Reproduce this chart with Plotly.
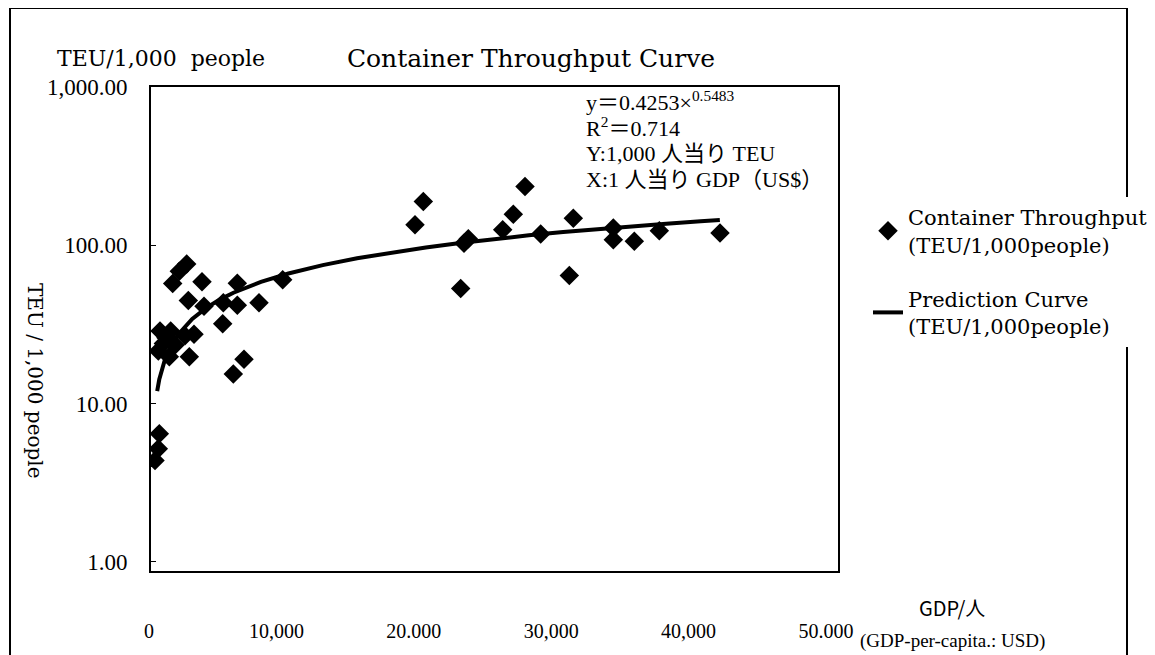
import plotly.graph_objects as go

# ---- data ----
gdp_per_capita = [
    291, 531, 604, 655, 531, 1092, 1332, 1434, 1579, 2060, 2598, 2715, 2475, 2787,
    3130, 3712, 3857, 5218, 5262, 5990, 6281, 6281, 6769, 7860, 9585,
    19214, 19818, 22540, 22780, 23093, 25597, 26369, 27220, 28362, 30444, 30735,
    33646, 33646, 35175, 36994, 41412,
    900, 1750,
]
teu_per_1000 = [
    4.38, 5.19, 6.45, 28.8, 21.5, 26.1, 19.8, 28.8, 57.4, 68.6, 76.3, 44.9, 26.8, 19.8,
    27.4, 58.8, 41.3, 32.0, 43.4, 15.4, 57.7, 41.9, 19.1, 43.4, 60.7,
    135, 189, 53.4, 103, 110, 125.5, 157, 235, 117.8, 64.5, 148.5,
    128.5, 108.6, 106, 123.7, 119.5,
    24.0, 23.5,
]

curve_x = [450, 600, 1000, 1500, 2000, 3000, 4000, 5000, 6000, 8000, 10000, 12500,
           15000, 17500, 20000, 22500, 25000, 27500, 30000, 32500, 35000, 37500,
           40000, 41400]
curve_y = [12.0, 14.2, 18.8, 23.4, 27.5, 34.3, 40.1, 45.4, 50.2, 58.7, 66.4, 75.0,
           82.9, 90.2, 97.0, 103.5, 109.7, 115.6, 121.2, 126.7, 131.9, 137.0,
           141.9, 144.7]

x_tickvals = [0, 10000, 20000, 30000, 40000, 50000]
x_ticktext = ["\u2007\u20070", "10,000", "20.000", "30,000", "40,000", "50.000"]
y_tickvals = [1, 10, 100, 1000]
y_ticktext = ["1.00", "10.00", "100.00", "1,000.00"]

equation_lines = [
    "y＝0.4253×<sup>0.5483</sup>",
    "R<sup>2</sup>＝0.714",
    "Y:1,000 人当り TEU",
    "X:1 人当り GDP（US$）",
]

SERIF = "DejaVu Serif, Liberation Serif, serif"
TIMES = "Liberation Serif, Noto Sans CJK JP, serif"

fig = go.Figure()
fig.add_trace(go.Scatter(
    x=gdp_per_capita, y=teu_per_1000, mode="markers",
    name="Container Throughput<br>(TEU/1,000people)",
    legendgroup="a",
    marker=dict(symbol="diamond", size=15, color="black", line=dict(width=0)),
))
fig.add_trace(go.Scatter(
    x=curve_x, y=curve_y, mode="lines",
    name="Prediction Curve<br>(TEU/1,000people)",
    legendgroup="b",
    line=dict(color="black", width=4),
))

# page offset of the browser (body margin)
OFF = 8
W, H = 1155, 655
L, R, T, B = 151, 838, 87, 571   # plot box in reference pixels
pw, ph = R - L, B - T


def px(xp):
    return (xp - L) / pw


def py(yp):
    return (B - yp) / ph


fig.update_layout(
    width=W - OFF, height=H - OFF,
    margin=dict(l=L - OFF, r=W - R, t=T - OFF, b=H - B, pad=0, autoexpand=False),
    plot_bgcolor="white", paper_bgcolor="white",
    showlegend=True,
    legend=dict(
        x=px(868), y=py(197), xanchor="left", yanchor="top",
        bgcolor="white", borderwidth=0,
        font=dict(family=SERIF, size=21, color="black"),
        tracegroupgap=24, itemwidth=30,
    ),
    title=dict(
        text="Container Throughput Curve",
        x=px(531), xref="paper", xanchor="center",
        y=1 - (58 - OFF) / (H - OFF), yanchor="middle",
        font=dict(family=SERIF, size=25, color="black"),
    ),
    xaxis=dict(
        range=[0, 50000], tickvals=x_tickvals, ticktext=x_ticktext,
        showgrid=False, zeroline=False, automargin=False,
        showline=True, linecolor="black", linewidth=2, mirror=True,
        ticks="", ticklabelstandoff=41, ticklabelshift=-12,
        tickfont=dict(family=TIMES, size=20, color="black"),
    ),
    yaxis=dict(
        type="log", range=[-0.057, 3.0],
        tickvals=y_tickvals, ticktext=y_ticktext,
        showgrid=False, zeroline=False, automargin=False,
        showline=True, linecolor="black", linewidth=2, mirror=True,
        ticks="inside", ticklen=5, tickwidth=1, tickcolor="black",
        ticklabelstandoff=17,
        tickfont=dict(family=TIMES, size=23, color="black"),
    ),
)

annotations = [
    dict(text="TEU/1,000  people", x=px(161), y=py(58), xanchor="center", yanchor="middle",
         font=dict(family=SERIF, size=22, color="black")),
    dict(text="TEU / 1,000 people", x=px(35), y=py(381), textangle=90,
         xanchor="center", yanchor="middle",
         font=dict(family=SERIF, size=20, color="black")),
    dict(text="GDP/人", x=px(952), y=py(607), xanchor="center", yanchor="middle",
         font=dict(family="Noto Sans CJK JP, sans-serif", size=20, color="black")),
    dict(text="(GDP-per-capita.: USD)", x=px(858), y=py(641), xanchor="left", yanchor="middle",
         font=dict(family=TIMES, size=19, color="black")),
]
for i, line in enumerate(equation_lines):
    annotations.append(dict(text=line, x=px(584), y=py(101 + i * 26.3),
                            xanchor="left", yanchor="middle", align="left",
                            font=dict(family=TIMES, size=22, color="black")))
for a in annotations:
    a.update(xref="paper", yref="paper", showarrow=False)
fig.update_layout(annotations=annotations)

# outer frame of the figure
fig.add_shape(type="rect", xref="paper", yref="paper",
              x0=px(10), x1=px(1127), y0=py(700), y1=py(8),
              line=dict(color="black", width=2), layer="below")

fig.write_html("out.html")
